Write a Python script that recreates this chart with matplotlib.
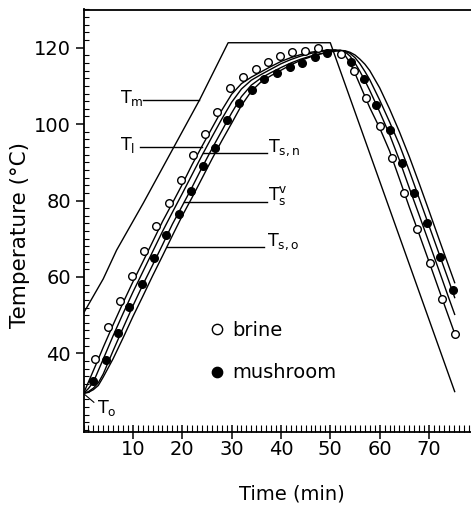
import matplotlib
matplotlib.use('Agg')
import matplotlib.pyplot as plt
import numpy as np
from matplotlib.ticker import FixedLocator, MultipleLocator

# ---------------- data ----------------
# medium temperature T_m
t_m = [0, 2.0, 4.0, 6.7, 12.1, 23.5, 29.3, 50.0, 75.2]
T_m = [50.5, 55.0, 59.5, 67.0, 79.3, 106.3, 121.3, 121.3, 30.0]

# time grid of the model curves
t_c = [0, 1, 2, 3, 4, 6, 8, 10, 12, 14, 16, 18, 20, 22, 24, 26, 28, 30, 32, 34,
       36, 38, 40, 42, 44, 46, 48, 50, 51, 52, 53, 54, 55, 56, 57, 58, 60, 62,
       64, 66, 68, 70, 72, 74, 75.2]
T_l = [29.5, 32.5, 35.5, 38.5, 41.6, 47.5, 53.2, 58.7, 63.9, 69.2, 74.5, 79.3,
       84.2, 89.4, 94.2, 98.9, 103.6, 107.8, 110.6, 112.3, 113.7, 115.1, 116.4,
       117.4, 118.2, 118.8, 119.2, 119.4, 119.4, 119.0, 118.0, 116.0, 113.3,
       110.3, 107.3, 104.3, 99.0, 93.0, 85.7, 78.3, 71.2, 64.0, 56.7, 49.5, 45.2]
T_sn = [29.5, 30.8, 32.5, 35.5, 38.5, 44.6, 50.4, 56.0, 61.3, 66.6, 71.9, 76.9,
        81.8, 86.8, 91.8, 96.6, 101.3, 105.7, 109.2, 111.5, 113.0, 114.4, 115.8,
        116.9, 117.8, 118.5, 119.0, 119.3, 119.4, 119.3, 118.9, 117.8, 116.0,
        113.8, 111.4, 108.8, 103.2, 97.3, 90.6, 83.3, 76.2, 69.0, 61.8, 54.5, 50.2]
T_sv = [29.5, 30.0, 30.9, 32.3, 34.6, 40.7, 46.6, 52.4, 57.9, 63.1, 68.4, 73.8,
        78.6, 83.5, 88.6, 93.5, 98.2, 102.9, 107.2, 110.2, 112.1, 113.5, 114.8,
        116.0, 117.0, 117.8, 118.4, 118.9, 119.2, 119.3, 119.1, 118.5, 117.4,
        115.8, 113.8, 111.6, 106.3, 100.6, 94.6, 87.8, 80.6, 73.4, 66.2, 59.0, 54.6]
T_so = [29.5, 29.8, 30.5, 31.6, 33.8, 38.6, 44.0, 49.6, 54.9, 60.3, 65.5, 70.8,
        76.0, 80.8, 85.8, 90.8, 95.6, 100.2, 104.9, 108.6, 111.1, 112.7, 114.1,
        115.5, 116.7, 117.6, 118.4, 118.9, 119.1, 119.3, 119.2, 118.8, 118.1,
        117.0, 115.7, 114.0, 109.5, 104.0, 98.0, 91.5, 84.5, 77.3, 70.0, 62.8, 58.5]

# measured points
t_brine = [2.3, 4.9, 7.3, 9.8, 12.3, 14.7, 17.3, 19.8, 22.1, 24.6, 27.0, 29.7,
           32.4, 34.9, 37.4, 39.8, 42.3, 44.9, 47.5, 52.1, 54.8, 57.3, 60.0,
           62.5, 65.0, 67.6, 70.1, 72.7, 75.2]
T_brine = [38.5, 47.0, 53.8, 60.3, 66.7, 73.3, 79.3, 85.5, 92.0, 97.4, 103.2,
           109.4, 112.3, 114.3, 116.3, 117.9, 118.8, 119.1, 119.8, 118.4, 113.9,
           106.8, 99.4, 91.2, 82.0, 72.5, 63.7, 54.1, 45.2]
t_mush = [1.9, 4.5, 6.9, 9.3, 11.8, 14.3, 16.7, 19.4, 21.8, 24.2, 26.7, 29.0,
          31.5, 34.2, 36.6, 39.3, 41.8, 44.3, 46.9, 49.3, 54.2, 56.8, 59.3,
          62.0, 64.5, 67.0, 69.6, 72.2, 74.8]
T_mush = [32.9, 38.2, 45.4, 52.2, 58.1, 65.0, 71.0, 76.6, 82.6, 89.0, 93.8,
          101.0, 105.4, 108.9, 111.8, 113.5, 114.9, 116.1, 117.6, 118.5, 116.2,
          111.9, 105.0, 98.4, 89.7, 82.0, 74.0, 65.1, 56.7]

x_ticks = [10, 20, 30, 40, 50, 60, 70]
y_ticks = [40, 60, 80, 100, 120]

# ---------------- figure ----------------
plt.rcParams['font.family'] = ['DejaVu Sans']
plt.rcParams['mathtext.default'] = 'regular'

W, H = 471, 505
fig = plt.figure(figsize=(W / 100, H / 100), dpi=100)
px_per_min = 4.936
ax_left, ax_bottom, ax_top = 83.5, 431.7, 9.5
ax = fig.add_axes([ax_left / W, (H - ax_bottom) / H,
                   80 * px_per_min / W, (ax_bottom - ax_top) / H])
ax.set_xlim(0, 80)
ax.set_ylim(19.5, 130)

for s in ax.spines.values():
    s.set_linewidth(1.3)
ax.spines['right'].set_visible(False)

lw = 1.0
ax.plot(t_m, T_m, color='black', lw=lw)
for T in (T_l, T_sn, T_sv, T_so):
    ax.plot(t_c, T, color='black', lw=lw)

ax.plot(t_brine, T_brine, 'o', mfc='white', mec='black', mew=1.0, ms=5.5,
        ls='none', zorder=4, label='brine')
ax.plot(t_mush, T_mush, 'o', mfc='black', mec='black', mew=1.0, ms=5.5,
        ls='none', zorder=4, label='mushroom')

# ticks
ax.xaxis.set_major_locator(FixedLocator(x_ticks))
ax.xaxis.set_minor_locator(MultipleLocator(1))
ax.yaxis.set_major_locator(FixedLocator(y_ticks))
ax.yaxis.set_minor_locator(MultipleLocator(2))
ax.tick_params(axis='x', which='major', direction='inout', length=10, width=1.1,
               labelsize=14, pad=1)
ax.tick_params(axis='x', which='minor', direction='in', length=5, width=0.8)
ax.tick_params(axis='y', which='major', direction='out', length=6, width=1.1,
               labelsize=14, pad=3)
ax.tick_params(axis='y', which='minor', direction='in', length=3.5, width=0.8)

# axis labels
ax.text(-0.161, 0.467, 'Temperature (°C)', transform=ax.transAxes, rotation=90,
        ha='center', va='center', fontsize=15.5)
fig.text(292 / W, 1 - 494 / H, 'Time (min)', ha='center', va='center',
         fontsize=14)

# curve labels with leader lines
def rise_time(curve, level):
    n = t_c.index(30) + 1
    return float(np.interp(level, curve[:n], t_c[:n]))

lab_fs = 12.5
ax.plot([12.1, float(np.interp(106.3, T_m[:7], t_m[:7]))], [106.3, 106.3],
        color='black', lw=lw)
ax.text(7.4, 105.6, '$T_m$', fontsize=lab_fs, ha='left', va='baseline')

ax.plot([11.5, rise_time(T_l, 94.1)], [94.1, 94.1], color='black', lw=lw)
ax.text(7.4, 93.2, '$T_l$', fontsize=lab_fs, ha='left', va='baseline')

ax.plot([rise_time(T_sn, 92.4), 37.2], [92.4, 92.4], color='black', lw=lw)
ax.text(37.4, 92.8, '$T_{s,n}$', fontsize=lab_fs, ha='left', va='baseline')

ax.plot([rise_time(T_sv, 79.7), 37.2], [79.7, 79.7], color='black', lw=lw)
ax.text(37.4, 80.1, '$T_s^v$', fontsize=lab_fs, ha='left', va='baseline')

ax.plot([rise_time(T_so, 67.9), 36.6], [67.9, 67.9], color='black', lw=lw)
ax.text(37.2, 68.1, '$T_{s,o}$', fontsize=lab_fs, ha='left', va='baseline')

ax.plot([t_c[0], 2.1], [T_l[0], 27.2], color='black', lw=0.8)
ax.text(2.7, 24.4, '$T_o$', fontsize=lab_fs, ha='left', va='baseline')

# legend
leg = ax.legend(loc='upper left', bbox_to_anchor=(0.313, 0.262), frameon=False,
                fontsize=14, handlelength=1.0, handletextpad=0.3,
                borderaxespad=0, borderpad=0, labelspacing=1.2,
                markerscale=1.35)

fig.savefig('out.png', dpi=100)
